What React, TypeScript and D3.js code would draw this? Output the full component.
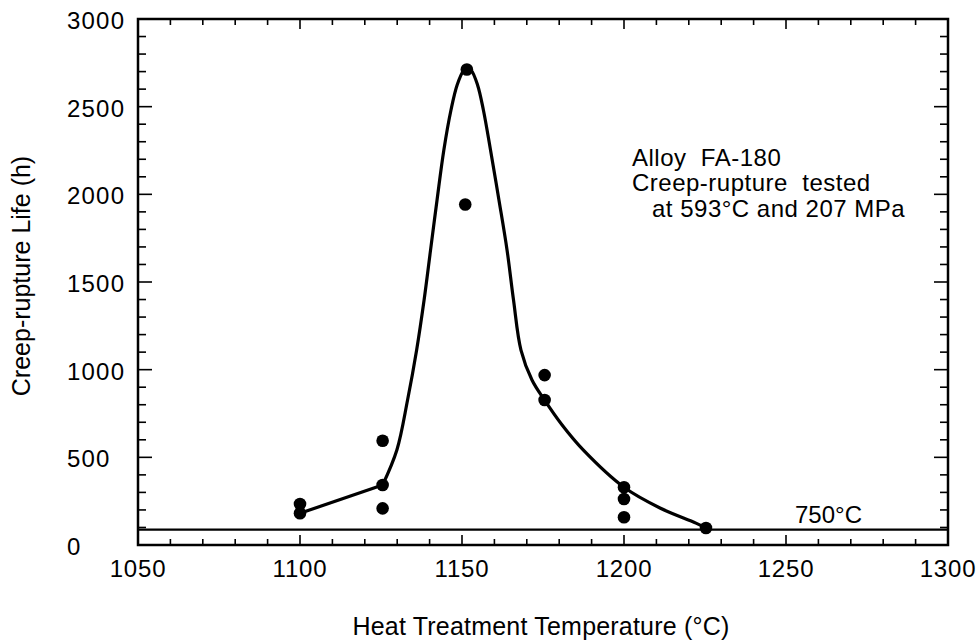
import React from "react";
import * as d3 from "d3";

// Scatter data (Heat treatment temperature °C, creep-rupture life h)
const pointTemps = [1100, 1100, 1125.5, 1125.5, 1125.5, 1151.5, 1151, 1175.5, 1175.5, 1200, 1200, 1200, 1225.3];
const pointLives = [234, 181, 595, 342, 209, 2712, 1942, 969, 827, 329, 262, 158, 97];

// Straight segment of the fitted line
const lineTemps = [1100, 1125.5];
const lineLives = [181, 342];

// Smooth fitted curve
const curveTemps = [
  1125.5, 1129.9, 1133.2, 1136.0, 1138.3, 1140.3, 1142.3, 1144.4, 1146.6, 1148.5, 1150.6, 1151.6,
  1152.8, 1154.8, 1156.6, 1158.8, 1161.4, 1163.9, 1165.9, 1168.2, 1171.6, 1175.6, 1180.9, 1187.4, 1200, 1211.1, 1222.2, 1225.3,
];
const curveLives = [
  342, 542, 827, 1112, 1397, 1683, 1968, 2253, 2481, 2624, 2709, 2720,
  2709, 2624, 2481, 2253, 1968, 1683, 1397, 1112, 941, 823, 684, 542, 329, 211, 125, 97,
];

// 750°C reference line
const refLife = 88;
const refLabel = "750°C";

const xTickLabels = [1050, 1100, 1150, 1200, 1250, 1300];
const yTickLabels = [0, 500, 1000, 1500, 2000, 2500, 3000];

const annotation = ["Alloy  FA-180", "Creep-rupture  tested", "at 593°C and 207 MPa"];

const xTitle = "Heat Treatment Temperature (°C)";
const yTitle = "Creep-rupture Life (h)";

const W = 980;
const H = 642;
const L = 138, R = 948, T = 19, B = 545;
const FONT = "'Liberation Sans', Arial, Helvetica, sans-serif";

export default function App() {
  const x = d3.scaleLinear().domain([1050, 1300]).range([L, R]);
  const y = d3.scaleLinear().domain([0, 3000]).range([B, T]);

  const straight = d3.line<number>().x((d, i) => x(lineTemps[i])).y((d, i) => y(lineLives[i]));
  const smooth = d3
    .line<number>()
    .x((d, i) => x(curveTemps[i]))
    .y((d, i) => y(curveLives[i]))
    .curve(d3.curveCatmullRom.alpha(0.5));

  const xMinor = d3.range(1060, 1300, 10);
  const yMinor = d3.range(100, 3000, 100);

  return (
    <svg width={W} height={H} style={{ position: "absolute", left: 0, top: 0, background: "#fff" }} fontFamily={FONT}>
      <rect x={0} y={0} width={W} height={H} fill="#fff" />
      {/* frame */}
      <rect x={L} y={T} width={R - L} height={B - T} fill="none" stroke="#000" strokeWidth={2.5} />
      {/* x ticks bottom & top */}
      {xMinor.map((v) => {
        const major = v % 50 === 0;
        const len = major ? 10 : 6;
        return (
          <g key={"xt" + v}>
            <line x1={x(v)} x2={x(v)} y1={B} y2={B - len} stroke="#000" strokeWidth={1.6} />
            <line x1={x(v)} x2={x(v)} y1={T} y2={T + len} stroke="#000" strokeWidth={1.6} />
          </g>
        );
      })}
      {/* y ticks left & right */}
      {yMinor.map((v) => {
        const major = v % 500 === 0;
        const len = major ? 14 : 8;
        return (
          <g key={"yt" + v}>
            <line x1={L} x2={L + len} y1={y(v)} y2={y(v)} stroke="#000" strokeWidth={1.6} />
            <line x1={R} x2={R - len} y1={y(v)} y2={y(v)} stroke="#000" strokeWidth={1.6} />
          </g>
        );
      })}
      {/* tick labels */}
      {xTickLabels.map((v) => (
        <text key={"xl" + v} x={x(v)} y={B + 32} textAnchor="middle" fontSize={24} letterSpacing={0.8} fill="#000">
          {v}
        </text>
      ))}
      {yTickLabels.map((v) => (
        <text key={"yl" + v} x={67} y={y(v) + 10} textAnchor="start" fontSize={24} letterSpacing={1.2} fill="#000">
          {v}
        </text>
      ))}
      {/* axis titles */}
      <text x={541} y={635} textAnchor="middle" fontSize={25} letterSpacing={0.2} fill="#000">
        {xTitle}
      </text>
      <text transform={`translate(30,276) rotate(-90)`} textAnchor="middle" fontSize={25} fill="#000">
        {yTitle}
      </text>
      {/* reference line */}
      <line x1={L} x2={R} y1={y(refLife)} y2={y(refLife)} stroke="#000" strokeWidth={2.2} />
      <text x={795} y={523} fontSize={24} fill="#000">
        {refLabel}
      </text>
      {/* fitted line */}
      <path d={straight(lineTemps) || ""} fill="none" stroke="#000" strokeWidth={3.2} strokeLinejoin="round" />
      <path d={smooth(curveTemps) || ""} fill="none" stroke="#000" strokeWidth={3.2} strokeLinejoin="round" />
      {/* points */}
      {pointTemps.map((t, i) => (
        <circle key={"p" + i} cx={x(t)} cy={y(pointLives[i])} r={6.3} fill="#000" />
      ))}
      {/* annotation */}
      <text fontSize={24} letterSpacing={0.5} fill="#000" style={{ whiteSpace: "pre" }}>
        <tspan x={632} y={166}>{annotation[0]}</tspan>
        <tspan x={632} y={191}>{annotation[1]}</tspan>
        <tspan x={652} y={217}>{annotation[2]}</tspan>
      </text>
    </svg>
  );
}
